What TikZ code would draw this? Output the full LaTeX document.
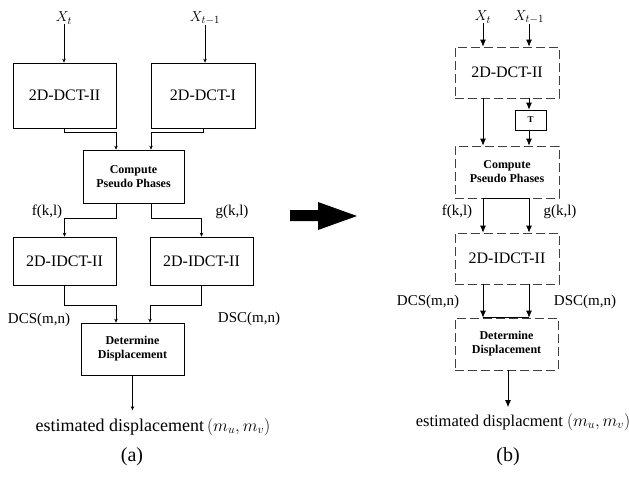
\documentclass[tikz,border=0pt]{standalone}
\usepackage{fontspec}
\setmainfont{Liberation Serif}
\usetikzlibrary{arrows.meta}

\tikzset{
    blk/.style={draw,line width=.7pt,inner sep=0pt,align=center},
    dblk/.style={blk,draw=black!75,dash pattern=on 9pt off 4pt},
    bigtxt/.style={font=\fontsize{16}{18}\selectfont},
    boldtxt/.style={font=\fontsize{12}{14}\selectfont\bfseries},
    lbl/.style={font=\fontsize{15}{17}\selectfont,inner sep=0pt},
    esttxt/.style={font=\fontsize{18}{20}\selectfont,inner sep=0pt},
    captxt/.style={font=\fontsize{20}{22}\selectfont,inner sep=0pt},
    sarr/.style={-{Stealth[length=4pt,width=3.5pt]},line width=.6pt},
    larr/.style={-{Latex[length=7pt,width=6pt]},line width=.8pt},
}

\begin{document}
\begin{tikzpicture}[x=1pt,y=1pt]
    \useasboundingbox (0,0) rectangle (629,-477);
    % (a)
    \begin{scope}
        \node[lbl] (xa) at (64,-18) {$X_t$};
        \node[lbl] (xpa) at (205,-18) {$X_{t-1}$};
        \node[blk,bigtxt,minimum width=103pt,minimum height=65pt] (dcta) at (64.5,-95.5) {2D-DCT-II};
        \node[blk,bigtxt,minimum width=104pt,minimum height=65pt] (dctia) at (203,-95.5) {2D-DCT-I};
        \node[blk,boldtxt,minimum width=101pt,minimum height=53pt] (cppa) at (133.5,-176.5) {Compute\\Pseudo Phases};
        \node[blk,bigtxt,minimum width=103pt,minimum height=48pt] (idcta) at (64.5,-261) {2D-IDCT-II};
        \node[blk,bigtxt,minimum width=103pt,minimum height=48pt] (idctb) at (201.5,-261) {2D-IDCT-II};
        \node[blk,boldtxt,minimum width=103pt,minimum height=52pt] (deta) at (132.5,-349) {Determine\\Displacement};
        \node[esttxt] (esta) at (153,-427) {estimated displacement\,$(m_u,m_v)$};
        \node[captxt] (capa) at (132,-457) {(a)};
        \node[lbl] (fa) at (47,-212) {f(k,l)};
        \node[lbl] (ga) at (232,-212) {g(k,l)};
        \node[lbl] (dcsa) at (39,-320) {DCS(m,n)};
        \node[lbl] (dsca) at (249,-319) {DSC(m,n)};

        \draw[sarr] (xa.south) -- (xa.south |- dcta.north);
        \draw[sarr] (xpa.south) -- (xpa.south |- dctia.north);
        \draw[sarr] (dcta.south) -- ++(0,-4) -| ([xshift=-17.5pt]cppa.north);
        \draw[sarr] (dctia.south) -- ++(0,-4) -| ([xshift=17.5pt]cppa.north);
        \draw[sarr] ([xshift=-17.5pt]cppa.south) -- ++(0,-15) -| (idcta.north);
        \draw[sarr] ([xshift=17.5pt]cppa.south) -- ++(0,-15) -| (idctb.north);
        \draw[sarr] (idcta.south) -- ++(0,-20) -| ([xshift=-16.5pt]deta.north);
        \draw[sarr] (idctb.south) -- ++(0,-20) -| ([xshift=17.5pt]deta.north);
        \draw[sarr,shorten >=8pt] (deta.south) -- (deta.south |- esta.north);
    \end{scope}
    % big arrow
    \fill (290,-210) -- (318,-210) -- (318,-202) -- (357,-216)
        -- (318,-230) -- (318,-221) -- (290,-221) -- cycle;
    % (b)
    \begin{scope}
        \node[lbl] (xb) at (483,-17) {$X_t$};
        \node[lbl] (xpb) at (529,-17) {$X_{t-1}$};
        \node[dblk,bigtxt,minimum width=104pt,minimum height=51pt] (dctb) at (507,-72.5) {2D-DCT-II};
        \node[blk,font=\fontsize{9}{10}\selectfont\bfseries,minimum width=31pt,minimum height=20pt] (tb) at (530.5,-120) {T};
        \node[dblk,boldtxt,minimum width=104pt,minimum height=52pt] (cppb) at (507,-172) {Compute\\Pseudo Phases};
        \node[dblk,bigtxt,minimum width=104pt,minimum height=51pt] (idctc) at (507,-258.5) {2D-IDCT-II};
        \node[dblk,boldtxt,minimum width=103pt,minimum height=52pt] (detb) at (506.5,-344) {Determine\\Displacement};
        \node[esttxt,font=\fontsize{16.5}{19}\selectfont] (estb) at (523,-422) {estimated displacment $(m_u,m_v)$};
        \node[captxt] (capb) at (508,-457) {(b)};
        \node[lbl] (fb) at (457,-212) {f(k,l)};
        \node[lbl] (gb) at (560,-212) {g(k,l)};
        \node[lbl] (dcsb) at (428,-302) {DCS(m,n)};
        \node[lbl] (dscb) at (585,-302) {DSC(m,n)};

        \draw[larr] (xb.south) -- (xb.south |- dctb.north);
        \draw[larr] (xpb.south) -- (xpb.south |- dctb.north);
        \draw[larr] ([xshift=-24pt]dctb.south) -- ([xshift=-24pt]cppb.north);
        \draw[larr] ([xshift=22pt]dctb.south) -- ([xshift=22pt]dctb.south |- tb.north);
        \draw[larr] ([xshift=22pt]dctb.south |- tb.south) -- ([xshift=22pt]cppb.north);
        \draw ([xshift=-24pt]cppb.south) -- ([xshift=22pt]cppb.south);
        \draw[larr] ([xshift=-24pt]cppb.south) -- ([xshift=-24pt]idctc.north);
        \draw[larr] ([xshift=22pt]cppb.south) -- ([xshift=22pt]idctc.north);
        \draw[larr] ([xshift=-24pt]idctc.south) -- ([xshift=-23.5pt]detb.north);
        \draw[larr] ([xshift=22pt]idctc.south) -- ([xshift=22.5pt]detb.north);
        \draw ([xshift=-23.5pt]detb.north) -- ([xshift=22.5pt]detb.north);
        \draw[larr,shorten >=6pt] ([xshift=1.5pt]detb.south) -- ([xshift=1.5pt]detb.south |- estb.north);
    \end{scope}
\end{tikzpicture}
\end{document}
